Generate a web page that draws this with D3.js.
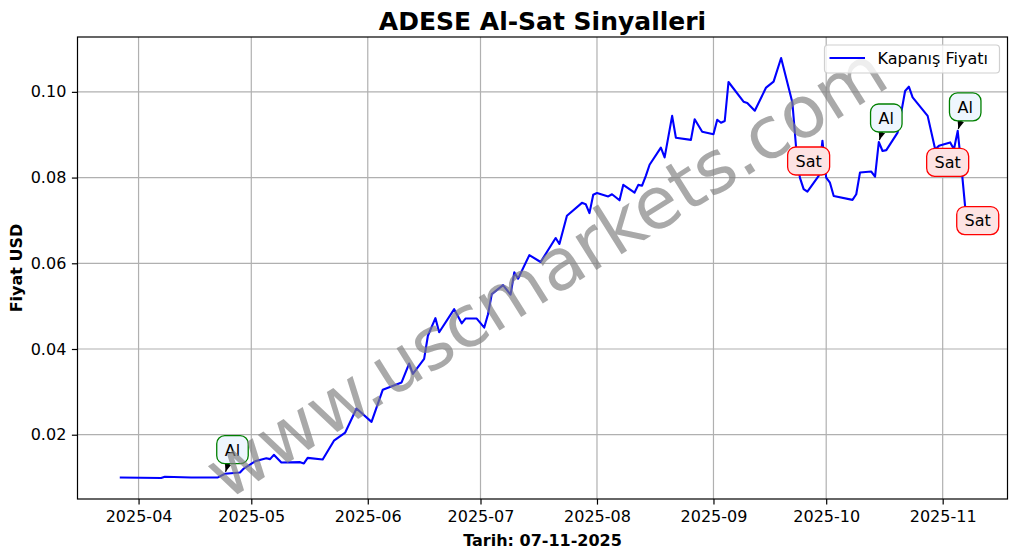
<!DOCTYPE html>
<html>
<head>
<meta charset="utf-8">
<script src="https://cdn.jsdelivr.net/npm/d3@7"></script>
<style>
  html, body { margin: 0; padding: 0; background: #fff; }
  svg { display: block; font-family: "DejaVu Sans", sans-serif; }
</style>
</head>
<body>
<svg id="chart" width="1017" height="554"></svg>
<script>
// ---- data ----
const dates = [
"2025-03-27","2025-04-07","2025-04-08","2025-04-15","2025-04-22","2025-04-24","2025-04-28","2025-04-29",
"2025-05-02","2025-05-05","2025-05-06","2025-05-07","2025-05-09","2025-05-14","2025-05-15","2025-05-16",
"2025-05-20","2025-05-23","2025-05-26","2025-05-29","2025-06-02","2025-06-05","2025-06-10","2025-06-12",
"2025-06-13","2025-06-16","2025-06-17","2025-06-19","2025-06-20","2025-06-24","2025-06-26","2025-06-27",
"2025-06-30","2025-07-02","2025-07-03","2025-07-04","2025-07-07","2025-07-09","2025-07-10","2025-07-11",
"2025-07-14","2025-07-17","2025-07-21","2025-07-22","2025-07-24","2025-07-28","2025-07-29","2025-07-30",
"2025-07-31","2025-08-01","2025-08-04","2025-08-05","2025-08-07","2025-08-08","2025-08-11","2025-08-12",
"2025-08-13","2025-08-14","2025-08-15","2025-08-18","2025-08-19","2025-08-21","2025-08-22","2025-08-26",
"2025-08-27","2025-08-29","2025-09-01","2025-09-02","2025-09-03","2025-09-04","2025-09-05","2025-09-09",
"2025-09-10","2025-09-12","2025-09-15","2025-09-17","2025-09-19","2025-09-22","2025-09-23","2025-09-24",
"2025-09-25","2025-09-26","2025-09-29","2025-09-30","2025-10-01","2025-10-02","2025-10-03","2025-10-08",
"2025-10-09","2025-10-10","2025-10-13","2025-10-14","2025-10-15","2025-10-16","2025-10-17","2025-10-20",
"2025-10-22","2025-10-23","2025-10-24","2025-10-28","2025-10-30","2025-10-31","2025-11-03","2025-11-04",
"2025-11-05","2025-11-06","2025-11-07"
];
const closePrices = [
0.0100,0.0099,0.0102,0.0100,0.0100,0.0109,0.0112,0.0121,
0.0138,0.0145,0.0143,0.0153,0.0135,0.0136,0.0133,0.0146,
0.0142,0.0186,0.0205,0.0261,0.0230,0.0305,0.0322,0.0366,
0.0342,0.0377,0.0431,0.0472,0.0439,0.0493,0.0460,0.0471,
0.0471,0.0450,0.0481,0.0528,0.0549,0.0527,0.0579,0.0564,
0.0619,0.0603,0.0659,0.0645,0.0711,0.0741,0.0738,0.0717,
0.0760,0.0764,0.0756,0.0761,0.0747,0.0783,0.0765,0.0783,
0.0781,0.0804,0.0830,0.0870,0.0847,0.0944,0.0893,0.0888,
0.0936,0.0907,0.0901,0.0935,0.0928,0.0932,0.1023,0.0977,
0.0974,0.0956,0.1010,0.1024,0.1079,0.0975,0.0869,0.0800,
0.0773,0.0767,0.0804,0.0886,0.0800,0.0788,0.0757,0.0748,
0.0761,0.0812,0.0814,0.0802,0.0883,0.0862,0.0864,0.0905,
0.1002,0.1012,0.0987,0.0944,0.0866,0.0874,0.0882,0.0866,
0.0909,0.0823,0.0730
];
const signalDates = ["2025-04-24","2025-09-23","2025-10-15","2025-10-30","2025-11-05","2025-11-07"];
const signalTypes = ["Al","Sat","Al","Sat","Al","Sat"];
const yTicks = [0.02, 0.04, 0.06, 0.08, 0.10];
const titleText = "ADESE Al-Sat Sinyalleri";
const xLabel = "Tarih: 07-11-2025";
const yLabel = "Fiyat USD";
const legendLabel = "Kapanış Fiyatı";
const watermark = "www.uscmarkets.com";

// ---- layout ----
const W = 1017, H = 554;
const m = {left: 77.5, top: 37, right: 9.5, bottom: 55};
const iw = W - m.left - m.right, ih = H - m.top - m.bottom;
const parse = d3.utcParse("%Y-%m-%d");
const series = dates.map((d, i) => ({date: parse(d), value: closePrices[i]}));

const ext = d3.extent(series, d => d.date);
const span = ext[1] - ext[0];
const x = d3.scaleUtc()
  .domain([new Date(+ext[0] - span * 0.05), new Date(+ext[1] + span * 0.05)])
  .range([0, iw]);
const vExt = d3.extent(closePrices);
const vSpan = vExt[1] - vExt[0];
const y = d3.scaleLinear()
  .domain([vExt[0] - vSpan * 0.05, vExt[1] + vSpan * 0.05])
  .range([ih, 0]);

const svg = d3.select("#chart");
svg.append("rect").attr("width", W).attr("height", H).attr("fill", "#fff");
const g = svg.append("g").attr("transform", `translate(${m.left},${m.top})`);

const monthTicks = d3.utcMonth.range(d3.utcMonth.ceil(x.domain()[0]), x.domain()[1]);

// grid
g.append("g").selectAll("line").data(monthTicks).join("line")
  .attr("x1", d => x(d)).attr("x2", d => x(d)).attr("y1", 0).attr("y2", ih)
  .attr("stroke", "#b0b0b0").attr("stroke-width", 1.2);
g.append("g").selectAll("line").data(yTicks).join("line")
  .attr("y1", d => y(d)).attr("y2", d => y(d)).attr("x1", 0).attr("x2", iw)
  .attr("stroke", "#b0b0b0").attr("stroke-width", 1.2);

// axes
const xAxis = d3.axisBottom(x).tickValues(monthTicks).tickFormat(d3.utcFormat("%Y-%m"))
  .tickSizeInner(5.6).tickSizeOuter(0).tickPadding(5.6);
const gx = g.append("g").attr("transform", `translate(0,${ih})`).call(xAxis);
const yAxis = d3.axisLeft(y).tickValues(yTicks).tickFormat(d3.format(".2f"))
  .tickSizeInner(5.6).tickSizeOuter(0).tickPadding(5.6);
const gy = g.append("g").call(yAxis);
[gx, gy].forEach(a => {
  a.select(".domain").remove();
  a.selectAll("line").attr("stroke", "#000").attr("stroke-width", 1.2);
  a.selectAll("text").attr("font-family", "DejaVu Sans").attr("font-size", 16).attr("fill", "#000");
});

// price line
const line = d3.line().x(d => x(d.date)).y(d => y(d.value));
g.append("path").datum(series)
  .attr("d", line).attr("fill", "none")
  .attr("stroke", "#0000ff").attr("stroke-width", 2.1)
  .attr("stroke-linejoin", "round");

// annotations
const sigs = signalDates.map((d, i) => {
  const dt = parse(d);
  const pt = series.find(s => +s.date === +dt);
  return {date: dt, value: pt.value, type: signalTypes[i]};
});
svg.append("defs").append("marker")
  .attr("id", "ah").attr("viewBox", "0 0 10 10").attr("refX", 10).attr("refY", 5)
  .attr("markerWidth", 7).attr("markerHeight", 7).attr("orient", "auto")
  .append("path").attr("d", "M0,1 L10,5 L0,9 Z").attr("fill", "#000");

const ann = g.append("g");
sigs.forEach(s => {
  const px = x(s.date), py = y(s.value);
  const isBuy = s.type === "Al";
  const cx = px + (isBuy ? 7.5 : 12.5);
  const cy = py + (isBuy ? -24 : 13);
  const bw = isBuy ? 31.5 : 42, bh = 28;
  const dx = px - cx, dy = py - cy, len = Math.hypot(dx, dy);
  const sh = 2;
  ann.append("line")
    .attr("x1", cx).attr("y1", cy)
    .attr("x2", px - dx / len * sh).attr("y2", py - dy / len * sh)
    .attr("stroke", "#000").attr("stroke-width", 1.2)
    .attr("marker-end", "url(#ah)");
  ann.append("rect")
    .attr("x", cx - bw / 2).attr("y", cy - bh / 2).attr("width", bw).attr("height", bh)
    .attr("rx", 8).attr("ry", 8)
    .attr("fill", isBuy ? "#eef6fe" : "#fde3e3")
    .attr("stroke", isBuy ? "#008000" : "#ff0000").attr("stroke-width", 1.3);
  ann.append("text")
    .attr("x", cx).attr("y", cy + 5.8)
    .attr("text-anchor", "middle")
    .attr("font-size", 16).attr("fill", "#000")
    .text(s.type);
});

// frame
g.append("rect").attr("width", iw).attr("height", ih)
  .attr("fill", "none").attr("stroke", "#000").attr("stroke-width", 1.2);

// watermark (semi-transparent, on top)
svg.append("text")
  .attr("transform", "translate(546,272) rotate(-32)")
  .attr("text-anchor", "middle")
  .attr("dominant-baseline", "central")
  .attr("font-size", 72)
  .attr("fill", "#808080").attr("fill-opacity", 0.68)
  .text(watermark);

// legend
const lg = svg.append("g");
lg.append("rect").attr("x", 824.5).attr("y", 45).attr("width", 175).attr("height", 28)
  .attr("rx", 3.5).attr("fill", "#fff").attr("fill-opacity", 0.8)
  .attr("stroke", "#d0d0d0").attr("stroke-width", 1.2);
lg.append("line").attr("x1", 829.5).attr("x2", 865).attr("y1", 58).attr("y2", 58)
  .attr("stroke", "#0000ff").attr("stroke-width", 2.1);
lg.append("text").attr("x", 877.5).attr("y", 64).attr("font-size", 16).attr("fill", "#000")
  .text(legendLabel);

// title and labels
svg.append("text").attr("x", m.left + iw / 2).attr("y", 29.5)
  .attr("text-anchor", "middle").attr("font-weight", "bold").attr("font-size", 25)
  .text(titleText);
svg.append("text").attr("x", m.left + iw / 2).attr("y", 545.5)
  .attr("text-anchor", "middle").attr("font-weight", "bold").attr("font-size", 16)
  .text(xLabel);
svg.append("text").attr("transform", `translate(22,${m.top + ih / 2}) rotate(-90)`)
  .attr("text-anchor", "middle").attr("font-weight", "bold").attr("font-size", 16)
  .text(yLabel);
</script>
</body>
</html>
